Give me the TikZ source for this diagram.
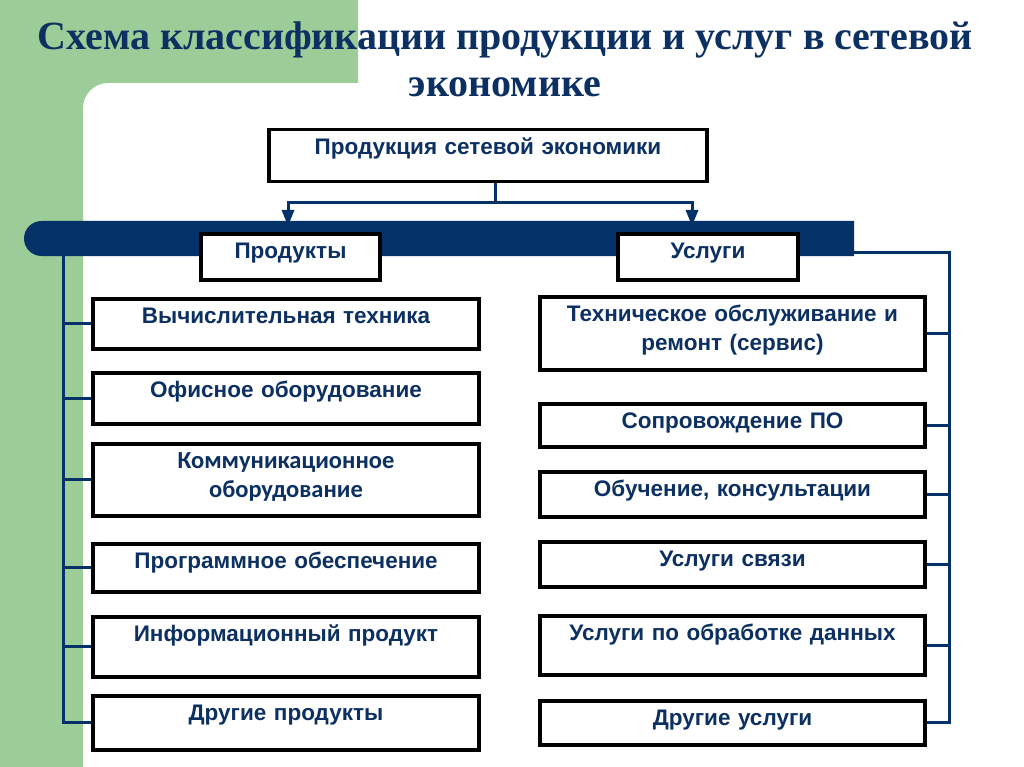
\documentclass[tikz,border=0pt]{standalone}
\usepackage{fontspec}
\setmainfont{Liberation Serif}
\setsansfont{Liberation Sans}
\newfontfamily\calibri{Carlito}
\usetikzlibrary{arrows.meta}
\definecolor{slidegreen}{RGB}{156,204,152}
\definecolor{barblue}{RGB}{4,50,104}
\definecolor{inkblue}{RGB}{12,48,98}
\tikzset{
  box/.style={draw=black,line width=3.5pt,fill=white,inner xsep=0pt,inner ysep=10pt,
    text height=15pt,align=center,anchor=north,text=inkblue,
    font=\sffamily\bfseries\fontsize{22.5}{29}\selectfont},
  lbox/.style={box,text width=386pt},
  rbox/.style={box,text width=385pt},
  conn/.style={barblue,line width=3pt},
  headline/.style={text=inkblue,anchor=base,inner sep=0pt,
    font=\rmfamily\bfseries\fontsize{40}{47}\selectfont},
}
\begin{document}
\begin{tikzpicture}[x=1pt,y=-1pt]
  \useasboundingbox (0,0) rectangle (1024,767);
  \fill[white] (0,0) rectangle (1024,767);
  % green corner of the slide
  \fill[slidegreen] (0,0) -- (358,0) -- (358,83) -- (108,83)
    arc[start angle=270,end angle=180,radius=25] -- (83,767) -- (0,767) -- cycle;
  \node[headline] (title1) at (505,50) {Схема классификации продукции и услуг в сетевой};
  \node[headline] (title2) at (505,97) {экономике};
  % blue bar
  \fill[barblue] (854,221) -- (41.5,221) arc[start angle=270,end angle=90,radius=17.5]
    -- (854,256) -- cycle;
  \node[box,text width=438pt,text depth=17pt] (prod) at (488,128) {Продукция сетевой экономики};
  \node[box,text width=179pt,text depth=11pt] (goods) at (290.5,232) {Продукты};
  \node[box,text width=180pt,text depth=11pt] (serv) at (708,232) {Услуги};
  % products
  \node[lbox,text depth=15pt] (g1) at (286,297) {Вычислительная техника};
  \node[lbox,text depth=16pt] (g2) at (286,371) {Офисное оборудование};
  \node[lbox,text depth=37pt] (g3) at (286,442) {\calibri\fontsize{24.5}{28}\selectfont Коммуникационное\\оборудование};
  \node[lbox,text depth=13pt] (g4) at (286,542) {Программное обеспечение};
  \node[lbox,text depth=25pt] (g5) at (286,615) {Информационный продукт};
  \node[lbox,text depth=19pt] (g6) at (286,694) {Другие продукты};
  % services
  \node[rbox,text depth=38pt] (s1) at (732.5,295) {Техническое обслуживание и\\ремонт (сервис)};
  \node[rbox,text depth=8pt] (s2) at (732.5,402) {Сопровождение ПО};
  \node[rbox,text depth=10pt] (s3) at (732.5,470) {Обучение, консультации};
  \node[rbox,text depth=10pt] (s4) at (732.5,540) {Услуги связи};
  \node[rbox,text depth=24pt] (s5) at (732.5,614) {Услуги по обработке данных};
  \node[rbox,text depth=9pt] (s6) at (732.5,699) {Другие услуги};
  % connectors
  \coordinate (split) at (495,203);
  \coordinate (tipg) at (288,226);
  \coordinate (tips) at (692,226);
  \draw[conn] (prod.south -| split) -- (split);
  \draw[conn,-{Triangle[width=12pt,length=16pt]}] (split) -| (tipg);
  \draw[conn,-{Triangle[width=12pt,length=16pt]}] (split) -| (tips);
  \coordinate (lrail) at (63,256);
  \draw[conn] (lrail) |- (g6.west);
  \foreach \n in {g1,g2,g3,g4,g5}
    \draw[conn] (\n.west -| lrail) -- (\n.west);
  \coordinate (rbar) at (854,252);
  \coordinate (rrail) at (949,252);
  \draw[conn] (rbar) -- (rrail) |- (s6.east);
  \foreach \n in {s1,s2,s3,s4,s5}
    \draw[conn] (\n.east -| rrail) -- (\n.east);
\end{tikzpicture}
\end{document}
